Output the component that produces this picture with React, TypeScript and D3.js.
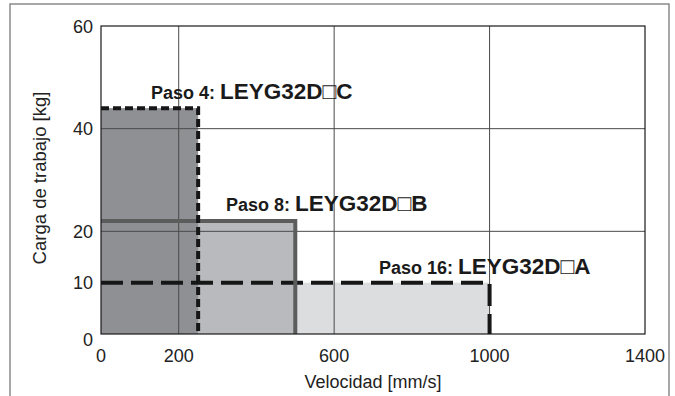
import { useEffect, useRef } from 'react';
import * as d3 from 'd3';

// chart data
const steps = ['Paso 4:', 'Paso 8:', 'Paso 16:'];
const models = ['LEYG32D\u25A1C', 'LEYG32D\u25A1B', 'LEYG32D\u25A1A'];
const maxSpeed = [250, 500, 1000]; // mm/s
const maxLoad = [44, 22, 10]; // kg
const xTicks = [0, 200, 600, 1000, 1400];
const yTicks = [0, 10, 20, 40, 60];
const xGrid = [200, 600, 1000];
const yGrid = [20, 40];

const W = 675;
const H = 396;

export default function App() {
  const svgRef = useRef<SVGSVGElement>(null);

  useEffect(() => {
    const svg = d3.select(svgRef.current);
    svg.selectAll('*').remove();

    const x = d3.scaleLinear().domain([0, 1400]).range([101, 645]);
    const y = d3.scaleLinear().domain([0, 60]).range([334, 26]);
    const font = '"Liberation Sans", Arial, sans-serif';

    // outer frame
    svg.append('rect')
      .attr('x', 10).attr('y', 4)
      .attr('width', 659).attr('height', 400)
      .attr('fill', 'none')
      .attr('stroke', '#8a8a8a')
      .attr('stroke-width', 1.5);

    const fills = ['#8f9094', '#b9babd', '#dcdddf'];
    const order = [2, 1, 0]; // back to front

    svg.append('g')
      .selectAll('rect')
      .data(order)
      .join('rect')
      .attr('x', x(0))
      .attr('y', i => y(maxLoad[i]))
      .attr('width', i => x(maxSpeed[i]) - x(0))
      .attr('height', i => y(0) - y(maxLoad[i]))
      .attr('fill', i => fills[i]);

    // grid
    const grid = svg.append('g').attr('stroke', '#4a4a4a').attr('stroke-width', 1);
    grid.selectAll('.vg')
      .data(xGrid)
      .join('line')
      .attr('x1', d => x(d)).attr('x2', d => x(d))
      .attr('y1', y(60)).attr('y2', y(0));
    grid.selectAll('.hg')
      .data(yGrid)
      .join('line')
      .attr('x1', x(0)).attr('x2', x(1400))
      .attr('y1', d => y(d)).attr('y2', d => y(d));

    // outline of each envelope
    const strokes = ['#161616', '#5c5c5c', '#161616'];
    const dashes = ['8,4', null, '22,8'];
    svg.append('g')
      .selectAll('path')
      .data(order)
      .join('path')
      .attr('d', i => {
        const p = d3.path();
        p.moveTo(x(0), y(maxLoad[i]));
        p.lineTo(x(maxSpeed[i]), y(maxLoad[i]));
        p.lineTo(x(maxSpeed[i]), y(0));
        return p.toString();
      })
      .attr('fill', 'none')
      .attr('stroke', i => strokes[i])
      .attr('stroke-width', 4)
      .attr('stroke-dasharray', i => dashes[i]);

    // plot frame
    svg.append('rect')
      .attr('x', x(0)).attr('y', y(60))
      .attr('width', x(1400) - x(0)).attr('height', y(0) - y(60))
      .attr('fill', 'none')
      .attr('stroke', '#1a1a1a')
      .attr('stroke-width', 1.2);

    // tick labels
    svg.append('g')
      .selectAll('text')
      .data(xTicks)
      .join('text')
      .attr('x', d => x(d))
      .attr('y', 362)
      .attr('text-anchor', 'middle')
      .attr('font-family', font)
      .attr('font-size', 18)
      .attr('fill', '#222')
      .text(d => d);

    svg.append('g')
      .selectAll('text')
      .data(yTicks)
      .join('text')
      .attr('x', 93)
      .attr('y', d => y(d) + 6.5 + (d === 0 ? 5 : 0))
      .attr('text-anchor', 'end')
      .attr('font-family', font)
      .attr('font-size', 18)
      .attr('fill', '#222')
      .text(d => d);

    // axis titles
    svg.append('text')
      .attr('x', (x(0) + x(1400)) / 2)
      .attr('y', 388)
      .attr('text-anchor', 'middle')
      .attr('font-family', font)
      .attr('font-size', 18)
      .attr('fill', '#222')
      .text('Velocidad [mm/s]');

    svg.append('text')
      .attr('transform', `translate(46,${(y(0) + y(60)) / 2 - 2}) rotate(-90)`)
      .attr('text-anchor', 'middle')
      .attr('font-family', font)
      .attr('font-size', 18.5)
      .attr('fill', '#222')
      .text('Carga de trabajo [kg]');

    // series labels
    const labelPos = [[151, 99], [226, 211], [379, 274]];
    const labels = svg.append('g')
      .selectAll('text')
      .data([0, 1, 2])
      .join('text')
      .attr('x', i => labelPos[i][0])
      .attr('y', i => labelPos[i][1])
      .attr('font-family', font)
      .attr('font-weight', 'bold')
      .attr('fill', '#1a1a1a');
    labels.append('tspan')
      .attr('font-size', 18)
      .text(i => steps[i] + ' ');
    labels.append('tspan')
      .attr('font-size', 22.5)
      .text(i => models[i]);
  }, []);

  return (
    <svg
      ref={svgRef}
      width={W}
      height={H}
      style={{ position: 'absolute', left: 0, top: 0, background: '#fff' }}
    />
  );
}
